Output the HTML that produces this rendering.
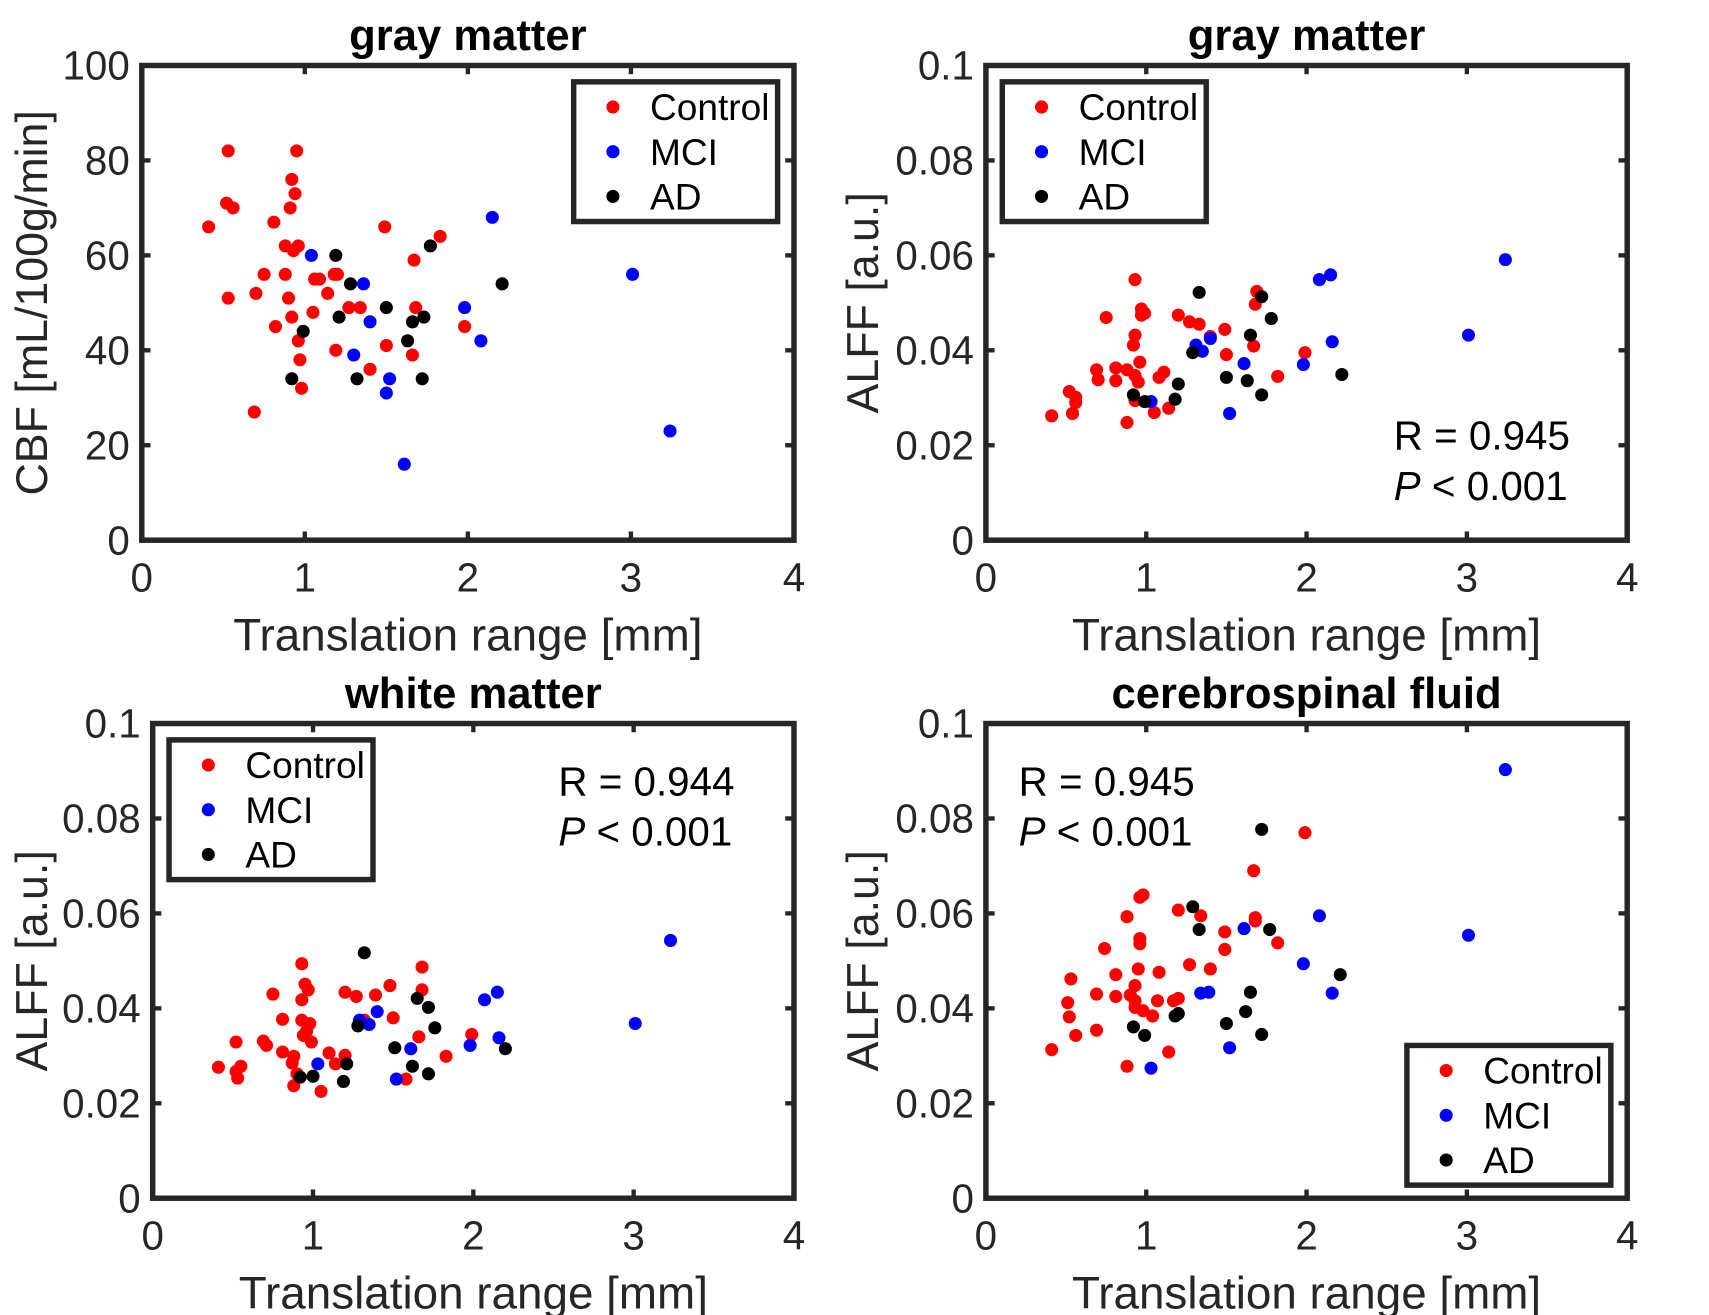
<!DOCTYPE html>
<html><head><meta charset="utf-8"><style>
html,body{margin:0;padding:0;background:#fff;overflow:hidden}
svg{display:block;font-family:"Liberation Sans",Arial,sans-serif}
</style></head><body>
<svg id="fig" width="1709" height="1315" viewBox="0 0 1567 1205" preserveAspectRatio="none" xmlns="http://www.w3.org/2000/svg"></svg>
<script>
// Panel 1: gray matter CBF
const p1CtrlX=[0.41,0.53,0.52,0.56,0.53,0.70,0.69,0.75,0.81,0.82,0.88,0.88,0.90,0.91,0.92,0.94,0.95,0.93,0.92,0.96,0.96,0.97,0.98,1.06,1.05,1.09,1.14,1.18,1.20,1.19,1.27,1.34,1.40,1.49,1.50,1.67,1.68,1.66,1.83,1.98];
const p1CtrlY=[66,82,71,70,51,52,27,56,67,45,62,56,51,70,76,73,82,61,47,62,42,38,32,55,48,55,52,56,56,40,49,49,36,66,41,59,49,39,64,45];
const p1MciX=[1.04,1.36,1.40,1.30,1.52,1.50,1.61,1.98,2.08,2.15,3.01,3.24];
const p1MciY=[60,54,46,39,34,31,16,49,42,68,56,23];
const p1AdX=[0.99,1.19,1.21,1.28,0.92,1.32,1.50,1.63,1.66,1.73,1.72,1.77,2.21];
const p1AdY=[44,60,47,54,34,34,49,42,46,47,34,62,54];
// Panel 2: gray matter ALFF (x1000)
const p2CtrlX=[0.41,0.52,0.56,0.54,0.56,0.69,0.70,0.75,0.81,0.81,0.88,0.88,0.93,0.92,0.93,0.93,0.96,0.95,0.97,0.97,0.99,0.93,1.05,1.08,1.11,1.14,1.20,1.27,1.33,1.40,1.49,1.50,1.67,1.69,1.68,1.82,1.99];
const p2CtrlY=[26.2,31.3,30.1,26.7,29.0,35.9,33.8,46.9,36.3,33.6,24.8,35.9,54.9,41.1,43.2,34.7,37.5,33.3,48.7,47.4,47.8,29.4,26.9,34.3,35.4,27.8,47.4,46.0,45.5,42.9,44.4,39.1,40.9,52.4,49.7,34.5,39.5];
const p2MciX=[1.03,1.31,1.35,1.40,1.52,1.61,1.98,2.08,2.15,2.16,3.01,3.24];
const p2MciY=[29.2,41.1,39.8,42.5,26.7,37.2,37.0,54.9,55.9,41.8,43.2,59.1];
const p2AdX=[0.92,0.99,1.18,1.20,1.29,1.33,1.50,1.63,1.65,1.72,1.72,1.78,2.22];
const p2AdY=[30.6,29.2,29.7,32.9,39.5,52.2,34.3,33.6,43.2,30.6,51.3,46.7,34.9];
// Panel 3: white matter ALFF (x1000)
const p3CtrlX=[0.41,0.52,0.53,0.55,0.52,0.69,0.71,0.75,0.81,0.81,0.88,0.88,0.93,0.93,0.93,0.94,0.95,0.96,0.97,0.98,0.99,1.05,1.10,1.14,1.20,1.27,1.32,1.39,1.50,1.48,1.58,1.66,1.68,1.68,1.83,1.99,0.87,0.90,1.20];
const p3CtrlY=[27.6,32.9,25.3,27.8,26.7,33.1,32.2,43.0,37.7,30.8,23.7,29.9,49.4,41.8,37.5,34.3,45.1,35.2,43.9,36.8,32.9,22.5,30.6,28.3,43.4,42.5,37.5,42.8,38.0,44.8,25.1,34.0,48.7,43.9,29.9,34.5,28.5,26.2,30.1];
const p3MciX=[1.03,1.29,1.35,1.40,1.52,1.61,1.98,2.07,2.15,2.16,3.01,3.23];
const p3MciY=[28.3,37.5,36.6,39.3,25.1,31.5,32.2,41.8,43.4,33.8,36.8,54.3];
const p3AdX=[0.92,1.00,1.19,1.21,1.28,1.32,1.51,1.62,1.65,1.72,1.72,1.76,2.20];
const p3AdY=[25.5,25.7,24.6,28.3,36.3,51.7,31.7,27.8,42.1,26.2,40.2,35.9,31.5];
// Panel 4: CSF ALFF (x1000)
const p4CtrlX=[0.41,0.52,0.53,0.56,0.51,0.69,0.69,0.74,0.81,0.81,0.88,0.88,0.90,0.93,0.93,0.93,0.95,0.96,0.96,0.98,0.96,0.98,1.04,1.07,1.08,1.14,1.17,1.20,1.20,1.27,1.34,1.40,1.49,1.49,1.67,1.68,1.68,1.82,1.99];
const p4CtrlY=[31.3,38.2,46.2,34.3,41.2,35.4,43.0,52.6,47.1,42.5,27.8,59.3,42.8,41.6,44.8,40.2,48.3,54.7,63.4,63.9,53.6,39.5,38.4,41.6,47.6,30.8,41.6,60.7,42.1,49.2,59.5,48.3,52.4,56.1,69.0,59.1,58.4,53.8,77.0];
const p4MciX=[1.03,1.34,1.39,1.52,1.61,1.98,2.08,2.16,3.01,3.24];
const p4MciY=[27.4,43.2,43.4,31.7,56.8,49.4,59.5,43.2,55.4,90.3];
const p4AdX=[0.92,0.99,1.18,1.20,1.29,1.33,1.50,1.62,1.65,1.72,1.72,1.77,2.21];
const p4AdY=[36.1,34.3,38.4,38.9,61.4,56.6,36.8,39.3,43.4,34.5,77.7,56.6,47.1];

const xTicks=[0,1,2,3,4];
const cbfTicks=["0","20","40","60","80","100"];
const alffTicks=["0","0.02","0.04","0.06","0.08","0.1"];

const NS="http://www.w3.org/2000/svg";
const svg=document.getElementById('fig');
function mk(tag,attrs,parent){const e=document.createElementNS(NS,tag);for(const k in attrs)e.setAttribute(k,attrs[k]);(parent||svg).appendChild(e);return e;}

const panels=[
 {id:'p1',x0:130,x1:728,y0:495,y1:60,ymax:100,title:'gray matter',yl:'CBF [mL/100g/min]',ticks:cbfTicks,ylx:28,data:[[p1CtrlX,p1CtrlY,'#ff0000'],[p1MciX,p1MciY,'#0000ff'],[p1AdX,p1AdY,'#000000']],leg:[526,75],stat:null},
 {id:'p2',x0:904,x1:1492,y0:495,y1:60,ymax:100,title:'gray matter',yl:'ALFF [a.u.]',ticks:alffTicks,ylx:790,data:[[p2CtrlX,p2CtrlY,'#ff0000'],[p2MciX,p2MciY,'#0000ff'],[p2AdX,p2AdY,'#000000']],leg:[919,75],stat:[1278,412,'0.945']},
 {id:'p3',x0:140,x1:728,y0:1098,y1:663,ymax:100,title:'white matter',yl:'ALFF [a.u.]',ticks:alffTicks,ylx:28,data:[[p3CtrlX,p3CtrlY,'#ff0000'],[p3MciX,p3MciY,'#0000ff'],[p3AdX,p3AdY,'#000000']],leg:[155,678],stat:[512,729,'0.944']},
 {id:'p4',x0:904,x1:1492,y0:1098,y1:663,ymax:100,title:'cerebrospinal fluid',yl:'ALFF [a.u.]',ticks:alffTicks,ylx:790,data:[[p4CtrlX,p4CtrlY,'#ff0000'],[p4MciX,p4MciY,'#0000ff'],[p4AdX,p4AdY,'#000000']],leg:[1290,958],stat:[934,729,'0.945']}
];
const names=['Control','MCI','AD'];const groupNames=['control','mci','ad'];
panels.forEach(p=>{
 const g=mk('g',{});
 
 
 const sx=v=>p.x0+(p.x1-p.x0)*v/4;
 const sy=v=>p.y0+(p.y1-p.y0)*v/p.ymax;
 xTicks.forEach(t=>{
  const X=sx(t);
  mk('line',{x1:X,x2:X,y1:p.y0,y2:p.y0-8,stroke:'#262626','stroke-width':4},g);
  mk('line',{x1:X,x2:X,y1:p.y1,y2:p.y1+8,stroke:'#262626','stroke-width':4},g);
  const tl=mk('text',{x:X,y:p.y0+47,'text-anchor':'middle','font-size':37,fill:'#262626'},g);
  tl.textContent=t;
  
  
 });
 p.ticks.forEach((t,i)=>{
  const Y=sy(i*20);
  mk('line',{x1:p.x0,x2:p.x0+8,y1:Y,y2:Y,stroke:'#262626','stroke-width':4},g);
  mk('line',{x1:p.x1,x2:p.x1-8,y1:Y,y2:Y,stroke:'#262626','stroke-width':4},g);
  const tl=mk('text',{x:p.x0-11,y:Y+13,'text-anchor':'end','font-size':37,fill:'#262626'},g);
  tl.textContent=t;
  
  
 });
 const box=mk('rect',{x:p.x0,y:p.y1,width:p.x1-p.x0,height:p.y0-p.y1,fill:'none',stroke:'#262626','stroke-width':5},g);
 
 
 const ti=mk('text',{x:(p.x0+p.x1)/2,y:p.y1-14,'text-anchor':'middle','font-size':40,'font-weight':'bold',fill:'#000'},g);
 ti.textContent=p.title;
 
 
 const xl=mk('text',{x:(p.x0+p.x1)/2,y:p.y0+101,'text-anchor':'middle','font-size':42,fill:'#262626'},g);
 xl.textContent='Translation range [mm]';
 
 
 const yc=(p.y0+p.y1)/2;
 const yl=mk('text',{x:p.ylx,y:yc+15,'text-anchor':'middle','font-size':41,fill:'#262626',transform:`rotate(-90 ${p.ylx} ${yc})`},g);
 yl.textContent=p.yl;
 
 
 p.data.forEach((d,gi)=>{
  d[0].forEach((xv,i)=>{
   const c=mk('circle',{cx:sx(xv),cy:sy(d[1][i]),r:6,fill:d[2]},g);
   
   
  });
 });
 const lg=mk('g',{},g);
 
 
 mk('rect',{x:p.leg[0],y:p.leg[1],width:187,height:128,fill:'#fff',stroke:'#262626','stroke-width':5},lg);
 names.forEach((n,i)=>{
  const yy=p.leg[1]+23+i*41;
  mk('circle',{cx:p.leg[0]+36,cy:yy,r:6,fill:p.data[i][2]},lg);
  const t=mk('text',{x:p.leg[0]+70,y:yy+12,'font-size':34,fill:'#000'},lg);
  t.textContent=n;
  
  
 });
 if(p.stat){
  const r=mk('text',{x:p.stat[0],y:p.stat[1],'font-size':37,fill:'#000'},g);
  r.textContent='R = '+p.stat[2];
  
  
  const pv=mk('text',{x:p.stat[0],y:p.stat[1]+46,'font-size':37,fill:'#000'},g);
  pv.innerHTML='<tspan font-style="italic">P</tspan> &lt; 0.001';
  
  
 }
});
</script>
</body></html>
